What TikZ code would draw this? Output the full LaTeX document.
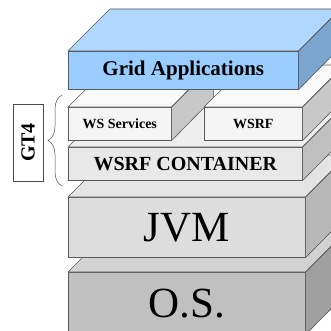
\documentclass[tikz,border=0pt]{standalone}
\usepackage{fontspec}
\setmainfont{Liberation Serif}
\usetikzlibrary{positioning, decorations.pathreplacing}

\definecolor{gridFront}{RGB}{153,204,255}
\definecolor{gridTop}{RGB}{176,216,255}
\definecolor{gridSide}{RGB}{122,166,207}
\definecolor{wsFront}{RGB}{245,245,245}
\definecolor{wsTop}{RGB}{249,249,249}
\definecolor{wsSide}{RGB}{200,200,200}
\definecolor{contFront}{RGB}{232,232,232}
\definecolor{contTop}{RGB}{238,238,238}
\definecolor{contSide}{RGB}{192,192,192}
\definecolor{jvmFront}{RGB}{221,221,221}
\definecolor{jvmTop}{RGB}{228,228,228}
\definecolor{jvmSide}{RGB}{184,184,184}
\definecolor{osFront}{RGB}{192,192,192}
\definecolor{osTop}{RGB}{210,210,210}
\definecolor{osSide}{RGB}{160,160,160}

\begin{document}
\begin{tikzpicture}[
x = 1pt, y = 1pt,
 slab/.style = {rectangle, draw=black!65, line width=0.6pt, inner sep=0pt, anchor=north west},
 face/.style = {draw=black!65, line width=0.6pt, line join=round},
 big/.style = {font=\fontsize{43}{43}\selectfont},
 mid/.style = {font=\fontsize{20}{20}\selectfont\bfseries},
 small/.style = {font=\fontsize{14}{14}\selectfont\bfseries}
                    ]
\useasboundingbox (0,0) rectangle (331,330);
\clip (0,0) rectangle (331,330);

% O.S.
\node[slab, fill=osFront, minimum width=237pt, minimum height=62pt, big] (os) at (68,58) {O.S.};
\draw[face, fill=osTop] (os.north west) -- ++(42,42) -- ++(237,0) -- (os.north east) -- cycle;
\draw[face, fill=osSide] (os.north east) -- ++(42,42) -- ++(0,-62) -- (os.south east) -- cycle;

% JVM
\node[slab, fill=jvmFront, minimum width=237pt, minimum height=60pt, big] (jvm) at (68,133) {JVM};
\draw[face, fill=jvmTop] (jvm.north west) -- ++(42,42) -- ++(237,0) -- (jvm.north east) -- cycle;
\draw[face, fill=jvmSide] (jvm.north east) -- ++(42,42) -- ++(0,-60) -- (jvm.south east) -- cycle;

% container
\node[slab, fill=contFront, minimum width=234pt, minimum height=33pt, mid] (cont) at (68,183) {WSRF CONTAINER};
\draw[face, fill=contTop] (cont.north west) -- ++(42,42) -- ++(234,0) -- (cont.north east) -- cycle;
\draw[face, fill=contSide] (cont.north east) -- ++(42,42) -- ++(0,-33) -- (cont.south east) -- cycle;

% services
\node[slab, fill=wsFront, minimum width=103pt, minimum height=33pt, small] (ws) at (68,223) {WS Services};
\draw[face, fill=wsTop] (ws.north west) -- ++(42,42) -- ++(103,0) -- (ws.north east) -- cycle;
\draw[face, fill=wsSide] (ws.north east) -- ++(42,42) -- ++(0,-33) -- (ws.south east) -- cycle;

\node[slab, fill=wsFront, minimum width=98pt, minimum height=33pt, small] (wsrf) at (204,223) {WSRF};
\draw[face, fill=wsTop] (wsrf.north west) -- ++(42,42) -- ++(98,0) -- (wsrf.north east) -- cycle;
\draw[face, fill=wsSide] (wsrf.north east) -- ++(42,42) -- ++(0,-33) -- (wsrf.south east) -- cycle;

% applications
\node[slab, fill=gridFront, minimum width=230pt, minimum height=38pt, font=\fontsize{21}{21}\selectfont\bfseries] (grid) at (68,279) {Grid Applications};
\draw[face, fill=gridTop] (grid.north west) -- ++(42,42) -- ++(230,0) -- (grid.north east) -- cycle;
\draw[face, fill=gridSide] (grid.north east) -- ++(42,42) -- ++(0,-38) -- (grid.south east) -- cycle;

% GT4 brace
\coordinate (gtLow) at (62,144);
\coordinate (gtHigh) at (62,235);
\draw[black!70, line width=0.5pt, decorate, decoration={brace, amplitude=14pt}] (gtLow) -- (gtHigh);
\node[draw=black!70, line width=0.6pt, rotate=90, minimum width=77pt, minimum height=30pt, inner sep=0pt,
      font=\fontsize{20}{20}\selectfont\bfseries] (gt) at (28,187.5) {GT4};
\end{tikzpicture}
\end{document}
